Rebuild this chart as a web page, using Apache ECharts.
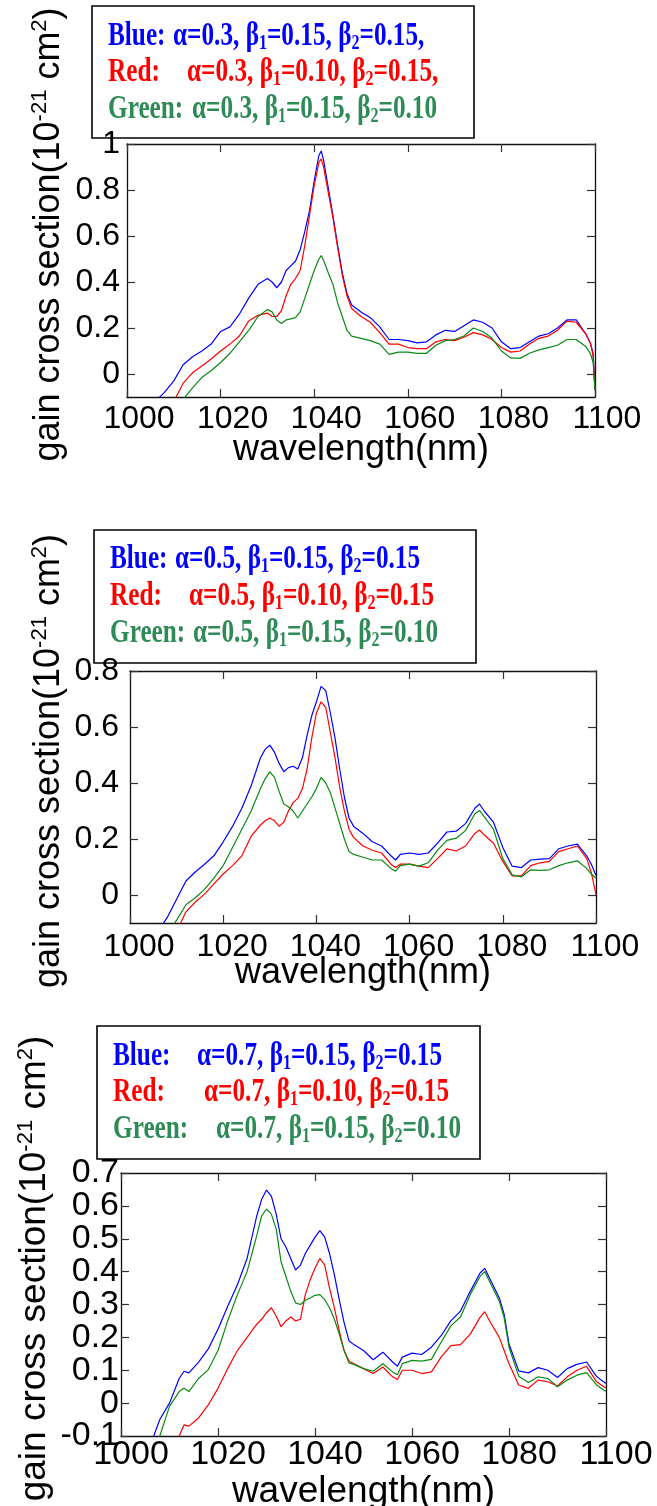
<!DOCTYPE html>
<html><head><meta charset="utf-8">
<script src="https://cdn.jsdelivr.net/npm/echarts@6/dist/echarts.min.js"></script>
<style>html,body{margin:0;padding:0;background:#fff}#c{width:657px;height:1506px}</style>
</head><body><div id="c"></div>
<script>
// ---------- DATA ----------
const xTickLabels = [1000, 1020, 1040, 1060, 1080, 1100];
const p1YTicks = [0, 0.2, 0.4, 0.6, 0.8, 1];
const p2YTicks = [0, 0.2, 0.4, 0.6, 0.8];
const p3YTicks = [-0.1, 0, 0.1, 0.2, 0.3, 0.4, 0.5, 0.6, 0.7];

const seriesNames = ['Blue', 'Red', 'Green'];
const legendNames = ['Blue:', 'Red:', 'Green:'];
const p1Legend = ['α=0.3, β1=0.15, β2=0.15,', 'α=0.3, β1=0.10, β2=0.15,', 'α=0.3, β1=0.15, β2=0.10'];
const p2Legend = ['α=0.5, β1=0.15, β2=0.15', 'α=0.5, β1=0.10, β2=0.15', 'α=0.5, β1=0.15, β2=0.10'];
const p3Legend = ['α=0.7, β1=0.15, β2=0.15', 'α=0.7, β1=0.10, β2=0.15', 'α=0.7, β1=0.15, β2=0.10'];
const xName = 'wavelength(nm)';
const yName = 'gain cross section(10{sup|-21} cm{sup|2})';

const p1X = [1006,1008,1010,1012,1014,1016,1018,1020,1022,1024,1026,1028,1030,1031,1032,1033,1034,1035,1036,1037,1038,1039,1040,1041,1041.5,1042,1043,1044,1045,1046,1047,1048,1050,1052,1054,1056,1058,1060,1062,1064,1066,1068,1070,1072,1074,1076,1078,1080,1082,1084,1086,1088,1090,1092,1094,1096,1098,1099,1099.6,1100];
const p1Blue = [-0.12,-0.08,-0.03,0.04,0.075,0.10,0.13,0.185,0.205,0.26,0.33,0.39,
 0.415,0.40,0.375,0.40,0.45,0.47,0.49,0.54,0.62,0.71,0.84,0.95,
 0.97,
 0.93,0.81,0.69,0.56,0.44,0.35,0.30,
 0.27,0.245,0.205,0.15,0.15,0.145,0.135,0.14,0.17,0.19,0.185,0.21,0.235,0.225,0.20,0.14,0.11,0.115,0.14,0.165,0.175,0.20,0.235,0.235,0.175,
 0.135,0.09,-0.07];
const p1Red = [-0.2,-0.16,-0.12,-0.04,0.005,0.035,0.065,0.10,0.13,0.165,0.23,0.255,
 0.265,0.25,0.25,0.275,0.34,0.39,0.415,0.45,0.56,0.69,0.82,0.92,
 0.935,
 0.90,0.79,0.68,0.55,0.43,0.34,0.285,
 0.25,0.225,0.18,0.13,0.13,0.115,0.11,0.11,0.14,0.15,0.145,0.16,0.18,0.17,0.15,0.115,0.095,0.10,0.13,0.155,0.165,0.19,0.23,0.225,0.175,
 0.135,0.08,-0.07];
const p1Green = [-0.25,-0.2,-0.16,-0.11,-0.06,-0.015,0.015,0.05,0.09,0.14,0.19,0.25,
 0.28,0.27,0.235,0.22,0.235,0.24,0.245,0.27,0.33,0.39,0.45,0.50,
 0.515,
 0.495,0.44,0.39,0.31,0.25,0.19,0.165,
 0.155,0.145,0.13,0.085,0.095,0.095,0.09,0.09,0.125,0.145,0.15,0.165,0.20,0.185,0.155,0.10,0.07,0.068,0.09,0.105,0.115,0.125,0.15,0.15,0.12,
 0.09,0.05,-0.07];

const p2X = [1006,1008,1010,1012,1014,1016,1018,1020,1022,1024,1026,1028,1029,1030,1031,1032,1033,1034,1035,1036,1037,1038,1039,1040,1041,1042,1043,1044,1045,1046,1047,1048,1050,1052,1054,1056,1057,1058,1060,1062,1064,1066,1068,1070,1072,1074,1075,1076,1078,1080,1082,1084,1086,1088,1090,1092,1094,1096,1098,1099,1100];
const p2Blue = [-0.13,-0.08,-0.015,0.05,0.082,0.11,0.14,0.19,0.245,0.31,0.39,0.49,
 0.52,0.535,0.51,0.47,0.44,0.455,0.46,0.45,0.49,0.57,0.64,0.69,0.745,0.73,0.65,0.56,0.45,0.35,0.275,0.245,
 0.22,0.19,0.175,0.14,
 0.125,
 0.145,0.15,0.145,0.15,0.185,0.225,0.228,0.255,0.31,
 0.325,
 0.30,0.26,0.17,0.103,0.098,0.125,0.128,0.13,0.165,0.175,0.182,0.14,
 0.11,0.07];
const p2Red = [-0.25,-0.19,-0.13,-0.06,-0.025,0.003,0.04,0.075,0.105,0.14,0.21,0.25,
 0.265,0.275,0.265,0.245,0.26,0.30,0.33,0.345,0.38,0.45,0.56,0.65,0.69,0.67,0.58,0.49,0.385,0.30,0.235,0.205,
 0.175,0.16,0.15,0.11,
 0.098,
 0.11,0.11,0.103,0.098,0.13,0.165,0.157,0.175,0.22,
 0.232,
 0.215,0.185,0.12,0.068,0.068,0.105,0.115,0.12,0.155,0.165,0.175,0.13,
 0.08,0.0];
const p2Green = [-0.2,-0.14,-0.09,-0.035,-0.01,0.02,0.06,0.105,0.17,0.235,0.30,0.38,
 0.415,0.44,0.42,0.37,0.325,0.315,0.30,0.275,0.30,0.325,0.35,0.38,0.42,0.40,0.365,0.31,0.255,0.2,0.155,0.145,
 0.135,0.125,0.125,0.095,
 0.085,
 0.105,0.11,0.103,0.115,0.16,0.195,0.203,0.23,0.29,
 0.302,
 0.28,0.235,0.13,0.072,0.065,0.09,0.088,0.09,0.105,0.115,0.122,0.095,
 0.075,0.06];

const p3X = [1006,1008,1010,1012,1013,1014,1016,1018,1020,1022,1024,1026,1028,1029,1030,1031,1032,1033,1034,1035,1036,1037,1038,1039,1040,1041,1042,1043,1044,1045,1046,1047,1048,1050,1052,1054,1056,1057,1058,1060,1062,1064,1066,1068,1070,1072,1074,1075,1076,1078,1079,1080,1082,1084,1086,1088,1090,1092,1094,1096,1098,1099,1100];
const p3Blue = [-0.13,-0.05,0.0,0.075,
 0.097,
 0.092,0.125,0.165,0.225,0.295,0.36,0.44,0.57,
 0.62,0.648,0.63,0.575,0.50,0.475,0.44,0.405,0.42,0.455,0.48,0.505,0.525,0.505,0.455,0.39,0.315,0.245,0.19,0.178,
 0.16,0.132,0.155,0.125,
 0.112,
 0.14,0.152,0.148,0.17,0.205,0.25,0.28,0.34,0.395,
 0.41,
 0.38,0.32,
 0.27,
 0.18,0.098,0.092,0.108,0.1,0.078,0.105,0.118,0.125,0.082,
 0.07,0.06];
const p3Red = [-0.3,-0.24,-0.18,-0.1,
 -0.066,
 -0.07,-0.045,-0.005,0.045,0.105,0.16,0.2,0.24,
 0.255,0.275,0.29,0.265,0.232,0.25,0.262,0.25,0.255,0.33,0.375,0.41,0.44,0.42,0.35,0.29,0.22,0.16,0.128,0.12,
 0.105,0.09,0.11,0.08,
 0.072,
 0.1,0.1,0.09,0.095,0.14,0.175,0.178,0.21,0.26,
 0.278,
 0.25,0.2,
 0.16,
 0.12,0.055,0.045,0.07,0.065,0.052,0.08,0.1,0.112,0.066,
 0.055,0.046];
const p3Green = [-0.17,-0.1,-0.01,0.035,
 0.045,
 0.035,0.075,0.102,0.16,0.25,0.33,0.40,0.51,
 0.57,0.59,0.575,0.53,0.43,0.385,0.34,0.305,0.30,0.313,0.32,0.328,0.33,0.315,0.29,0.255,0.21,0.16,0.122,0.118,
 0.105,0.097,0.12,0.095,
 0.086,
 0.12,0.13,0.128,0.133,0.185,0.235,0.262,0.33,0.385,
 0.4,
 0.37,0.31,
 0.26,
 0.17,0.082,0.063,0.08,0.075,0.05,0.07,0.085,0.093,0.056,
 0.045,0.035];

// ---------- STYLE / LAYOUT ----------
const lineColors = ['#0000ff', '#ff0000', '#0a8a14'];
const textColors = ['#0000ff', '#ff0000', '#2e8b57'];
const SANS = '"Liberation Sans", Arial, sans-serif';
const SERIF = '"Liberation Serif", "Times New Roman", serif';

const panels = [
  { x: p1X, ys: [p1Blue, p1Red, p1Green], yTicks: p1YTicks, legend: p1Legend,
    grid: { left: 127, top: 144, width: 468, height: 253 }, ymin: -0.1, ymax: 1.0,
    fs: 32, nameFs: 36, xShift: 12, xMargin: 6, yMargin: 7, xNameGap: 35, yNameGap: 58,
    box: { x: 92, y: 6, w: 382, h: 132 }, tx: 108, ax: [173, 187, 192], base: [47, 83, 120] },
  { x: p2X, ys: [p2Blue, p2Red, p2Green], yTicks: p2YTicks, legend: p2Legend,
    grid: { left: 130, top: 671, width: 466, height: 252 }, ymin: -0.1, ymax: 0.8,
    fs: 32, nameFs: 36, xShift: 9, xMargin: 8, yMargin: 11, xNameGap: 32, yNameGap: 61,
    box: { x: 94, y: 530, w: 382, h: 133 }, tx: 110, ax: [175, 189, 193], base: [570, 607, 644] },
  { x: p3X, ys: [p3Blue, p3Red, p3Green], yTicks: p3YTicks, legend: p3Legend,
    grid: { left: 121, top: 1173, width: 485, height: 263 }, ymin: -0.1, ymax: 0.7,
    fs: 34, nameFs: 37, xShift: 10, xMargin: 2, yMargin: 2, xNameGap: 37, yNameGap: 66,
    box: { x: 97, y: 1026, w: 383, h: 133 }, tx: 113, ax: [197, 204, 216], base: [1067, 1103, 1140] }
];

const grids = [], xAxes = [], yAxes = [], series = [], graphics = [];
const frame = { show: true, onZero: false, lineStyle: { color: '#111', width: 1.3 } };
const tick = { show: true, inside: true, length: 8, lineStyle: { color: '#333', width: 1.2 } };

panels.forEach((p, i) => {
  grids.push(Object.assign({ containLabel: false, outerBoundsMode: 'none', show: false }, p.grid));
  const fmtY = v => String(Math.round(v * 10) / 10);
  const fmtX = v => String(Math.round(v));
  // y tick labels are split (alternately) over two label axes, so the automatic
  // overlap handling never drops any of the tightly spaced labels
  const labA = p.yTicks.filter((v, j) => j % 2 === 0);
  const labB = p.yTicks.filter((v, j) => j % 2 === 1);
  const labelStyle = { fontSize: p.fs, fontFamily: SANS, color: '#000', margin: p.yMargin,
    formatter: fmtY, hideOverlap: false, showMinLabel: true, showMaxLabel: true };
  xAxes.push({
    gridIndex: i, type: 'value', min: 1000, max: 1100, interval: 20, position: 'bottom',
    axisLine: frame, axisTick: tick, splitLine: { show: false },
    axisLabel: { fontSize: p.fs, fontFamily: SANS, color: '#000', margin: p.xMargin,
      padding: [0, 0, 0, p.xShift * 2], customValues: xTickLabels, formatter: fmtX,
      showMinLabel: true, showMaxLabel: true, hideOverlap: false },
    name: xName, nameLocation: 'middle', nameGap: p.xNameGap, nameMoveOverlap: false,
    nameTextStyle: { fontSize: p.nameFs, fontFamily: SANS, color: '#000' }
  });
  xAxes.push({
    gridIndex: i, type: 'value', min: 1000, max: 1100, interval: 20, position: 'top',
    axisLine: frame, axisTick: tick, splitLine: { show: false }, axisLabel: { show: false }
  });
  const yBase = { gridIndex: i, type: 'value', min: p.ymin, max: p.ymax, splitLine: { show: false } };
  yAxes.push(Object.assign({}, yBase, {
    position: 'left', axisLine: frame,
    axisTick: Object.assign({ customValues: p.yTicks }, tick),
    axisLabel: Object.assign({ customValues: labA }, labelStyle),
    name: yName, nameLocation: 'middle', nameRotate: 90, nameGap: p.yNameGap, nameMoveOverlap: false,
    nameTextStyle: { fontSize: p.nameFs, fontFamily: SANS, color: '#000', lineHeight: 40,
      padding: [0, 0, 0, 72],
      rich: { sup: { fontSize: 22, lineHeight: 14, verticalAlign: 'top', fontFamily: SANS, color: '#000' } } }
  }));
  yAxes.push(Object.assign({}, yBase, {
    position: 'right', axisLine: frame,
    axisTick: Object.assign({ customValues: p.yTicks }, tick),
    axisLabel: { show: false }
  }));
  yAxes.push(Object.assign({}, yBase, {
    position: 'left', axisLine: { show: false }, axisTick: { show: false },
    axisLabel: Object.assign({ customValues: labB }, labelStyle)
  }));
  p.ys.forEach((vals, k) => {
    series.push({
      name: seriesNames[k], type: 'line', xAxisIndex: i * 2, yAxisIndex: i * 3,
      data: p.x.map((xv, j) => [xv, vals[j]]), showSymbol: false, symbol: 'none',
      clip: true, lineStyle: { color: lineColors[k], width: 1.2 }, itemStyle: { color: lineColors[k] },
      z: 3 + k
    });
  });
  // legend box
  graphics.push({ type: 'rect', shape: { x: p.box.x, y: p.box.y, width: p.box.w, height: p.box.h },
    style: { fill: 'none', stroke: '#000', lineWidth: 1.6 }, z: 10 });
  const SX = 0.765;
  for (let k = 0; k < 3; k++) {
    const baseStyle = { fontSize: 33, fontFamily: SERIF, fontWeight: 'bold', fill: textColors[k],
      verticalAlign: 'middle', align: 'left', lineHeight: 36 };
    const rich = { s: { fontSize: 21, lineHeight: 14, verticalAlign: 'bottom', fontFamily: SERIF,
      fontWeight: 'bold', fill: textColors[k] } };
    graphics.push({ type: 'text', x: p.tx, y: p.base[k] - 11, scaleX: SX, z: 11,
      style: Object.assign({ text: legendNames[k] }, baseStyle) });
    graphics.push({ type: 'text', x: p.ax[k], y: p.base[k] - 11, scaleX: SX, z: 11,
      style: Object.assign({ text: p.legend[k].replace(/β(\d)/g, 'β{s|$1}'), rich: rich }, baseStyle) });
  }
});

const chart = echarts.init(document.getElementById('c'), null, { renderer: 'canvas' });
chart.setOption({
  animation: false, backgroundColor: '#fff',
  grid: grids, xAxis: xAxes, yAxis: yAxes, series: series, graphic: graphics
});
</script></body></html>
